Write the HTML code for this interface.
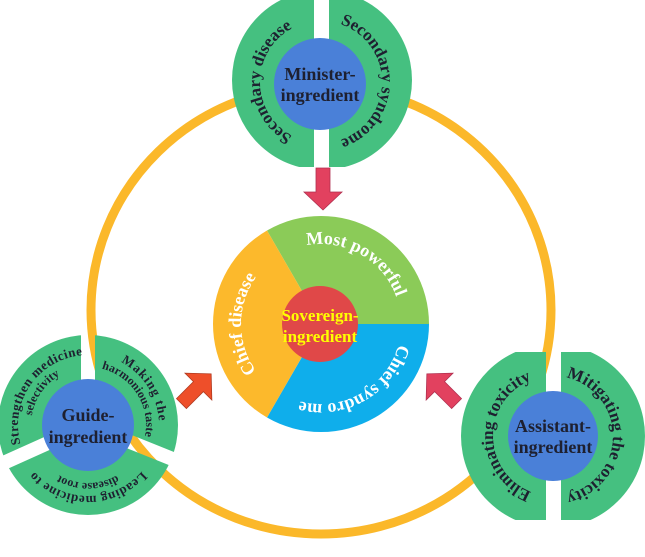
<!DOCTYPE html>
<html><head><meta charset="utf-8"><style>
html,body{margin:0;padding:0;background:#fff;}
svg{display:block;}
text{font-family:"Liberation Serif",serif;font-weight:bold;}
</style></head><body>
<svg id="s" width="645" height="557" viewBox="0 0 645 557" xmlns="http://www.w3.org/2000/svg">
<defs>
  <mask id="mm"><rect x="0" y="0" width="645" height="167" fill="#fff"/><rect x="314" y="0" width="15" height="200" fill="#000"/></mask>
  <mask id="ma"><rect x="0" y="352" width="645" height="168" fill="#fff"/><rect x="546" y="300" width="15" height="260" fill="#000"/></mask>
  <mask id="mg"><rect width="645" height="557" fill="#fff"/>
    <line x1="88" y1="425" x2="88" y2="320" stroke="#000" stroke-width="14"/>
    <line x1="88" y1="425" x2="-12" y2="470" stroke="#000" stroke-width="14"/>
    <line x1="88" y1="425" x2="190" y2="466" stroke="#000" stroke-width="14"/>
  </mask>
  <path id="p1"/><path id="p2"/><path id="p3"/><path id="p4"/><path id="p5"/><path id="p6"/>
  <path id="p7"/><path id="p8"/><path id="p9"/><path id="p10"/><path id="p11"/><path id="p12"/><path id="p13"/>
</defs>
<ellipse cx="321" cy="310" rx="230" ry="224" fill="none" stroke="#FBB82A" stroke-width="9"/>

<!-- Minister -->
<circle cx="322" cy="80" r="90" fill="#45C080" mask="url(#mm)"/>
<circle cx="320" cy="84" r="46" fill="#4A80D8"/>
<text font-size="18" fill="#1e2030" text-anchor="middle"><tspan x="320" y="80">Minister-</tspan><tspan x="320" y="101">ingredient</tspan></text>
<text font-size="17" fill="#1e2030"><textPath href="#p1" startOffset="50%" text-anchor="middle">Secondary disease</textPath></text>
<text font-size="17" fill="#1e2030"><textPath href="#p2" startOffset="50%" text-anchor="middle">Secondary syndrome</textPath></text>

<!-- Guide -->
<circle cx="88" cy="425" r="90" fill="#45C080" mask="url(#mg)"/>
<circle cx="88" cy="425" r="46" fill="#4A80D8"/>
<text font-size="18" fill="#1e2030" text-anchor="middle"><tspan x="88" y="421">Guide-</tspan><tspan x="88" y="443">ingredient</tspan></text>
<text font-size="13" fill="#1e2030" letter-spacing="0.5"><textPath href="#p3" startOffset="50%" text-anchor="middle">Strengthen medicine</textPath></text>
<text font-size="12" fill="#1e2030"><textPath href="#p4" startOffset="50%" text-anchor="middle">selectivity</textPath></text>
<text font-size="13" fill="#1e2030" letter-spacing="1"><textPath href="#p5" startOffset="50%" text-anchor="middle">Making the</textPath></text>
<text font-size="12" fill="#1e2030"><textPath href="#p6" startOffset="50%" text-anchor="middle">harmonious taste</textPath></text>
<text font-size="13" fill="#1e2030" letter-spacing="0.5"><textPath href="#p7" startOffset="50%" text-anchor="middle">Leading medicine to</textPath></text>
<text font-size="12" fill="#1e2030"><textPath href="#p8" startOffset="50%" text-anchor="middle">disease root</textPath></text>

<!-- Assistant -->
<circle cx="553" cy="436" r="92" fill="#45C080" mask="url(#ma)"/>
<circle cx="553" cy="436" r="45" fill="#4A80D8"/>
<text font-size="18" fill="#1e2030" text-anchor="middle"><tspan x="553" y="432">Assistant-</tspan><tspan x="553" y="453">ingredient</tspan></text>
<text font-size="17" fill="#1e2030"><textPath href="#p9" startOffset="50%" text-anchor="middle">Eliminating  toxicity</textPath></text>
<text font-size="17" fill="#1e2030"><textPath href="#p10" startOffset="50%" text-anchor="middle">Mitigating the toxicity</textPath></text>

<!-- Center pie -->
<path id="pieG" fill="#8BCB58"/>
<path id="pieB" fill="#0FAEEB"/>
<path id="pieO" fill="#FCB92C"/>
<circle cx="320" cy="324" r="38" fill="#E04848"/>
<text font-size="17" fill="#FFFF00" text-anchor="middle"><tspan x="320" y="321">Sovereign-</tspan><tspan x="320" y="342">ingredient</tspan></text>
<text font-size="18" fill="#fff"><textPath href="#p11" startOffset="50%" text-anchor="middle">Most powerful</textPath></text>
<text font-size="18" fill="#fff"><textPath href="#p12" startOffset="50%" text-anchor="middle">Chief syndro me</textPath></text>
<text font-size="18" fill="#fff"><textPath href="#p13" startOffset="50%" text-anchor="middle">Chief disease</textPath></text>

<!-- Arrows -->
<polygon points="-22,-7 2,-7 2,-19 20,0 2,19 2,7 -22,7" transform="translate(323,190) rotate(90)" fill="#E2415F" stroke="#b03050" stroke-width="0.8"/>
<polygon points="-22,-7 2,-7 2,-19 20,0 2,19 2,7 -22,7" transform="translate(197,388) rotate(-45)" fill="#EE4F2A" stroke="#b03a20" stroke-width="0.8"/>
<polygon points="-22,-7 2,-7 2,-19 20,0 2,19 2,7 -22,7" transform="translate(441,388) rotate(-135)" fill="#E2415F" stroke="#b03050" stroke-width="0.8"/>
</svg>
<script>
function pt(cx,cy,r,a){a=a*Math.PI/180;return [cx+r*Math.cos(a),cy+r*Math.sin(a)];}
function arc(cx,cy,r,a1,a2){var p=pt(cx,cy,r,a1),q=pt(cx,cy,r,a2);var l=(a2-a1)>180?1:0;
 return "M"+p[0].toFixed(2)+" "+p[1].toFixed(2)+" A"+r+" "+r+" 0 "+l+" 1 "+q[0].toFixed(2)+" "+q[1].toFixed(2);}
function sec(cx,cy,r,a1,a2){var p=pt(cx,cy,r,a1),q=pt(cx,cy,r,a2);var l=(a2-a1)>180?1:0;
 return "M"+cx+" "+cy+" L"+p[0]+" "+p[1]+" A"+r+" "+r+" 0 "+l+" 1 "+q[0]+" "+q[1]+" Z";}
function S(id,d){document.getElementById(id).setAttribute("d",d);}
S("p1",arc(321,82,61,95,265));
S("p2",arc(321,82,61,-85,85));
S("p3",arc(88,425,70,150,280));
S("p4",arc(88,425,57,160,270));
S("p5",arc(88,425,71,-90,25));
S("p6",arc(88,425,58,-90,25));
S("p7",arc(88,425,71,25,155));
S("p8",arc(88,425,58,35,145));
S("p9",arc(553,436,60,95,265));
S("p10",arc(553,436,60,-85,85));
S("p11",arc(321,324,80,-115,-5));
S("p12",arc(321,324,80,5,115));
S("p13",arc(321,324,80,125,235));
S("pieG",sec(321,324,108,-120,0));
S("pieB",sec(321,324,108,0,120));
S("pieO",sec(321,324,108,120,240));
</script>
</body></html>
